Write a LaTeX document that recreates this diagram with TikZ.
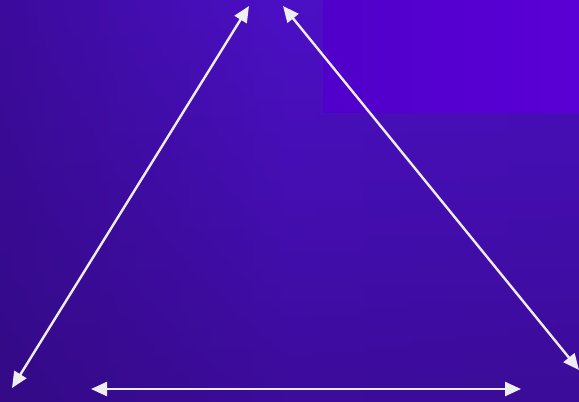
\documentclass[tikz,border=0pt]{standalone}
\usetikzlibrary{arrows.meta,fadings}
\definecolor{bgleft}{HTML}{3C0C9C}
\definecolor{bgmid}{HTML}{4C10C6}
\definecolor{bgright}{HTML}{4A10C0}
\definecolor{bgbot}{HTML}{2C0870}
\definecolor{boxleft}{HTML}{5000CA}
\definecolor{boxright}{HTML}{5A00D6}
\definecolor{arr}{HTML}{EEEEF2}
\tikzfading[name=downfade, top color=transparent!100, middle color=transparent!85, bottom color=transparent!0]
\tikzset{
  dbl/.style={draw=arr, line width=2.4pt, {Triangle[length=16pt,width=14pt]}-{Triangle[length=16pt,width=14pt]}}
}
\begin{document}
\begin{tikzpicture}[x=1pt,y=-1pt]
\useasboundingbox (0,0) rectangle (579,402);
\shade[left color=bgleft, right color=bgright, middle color=bgmid] (0,0) rectangle (579,402);
\fill[bgbot, fill opacity=0.5, path fading=downfade, fit fading=true] (0,0) rectangle (579,402);
\shade[left color=boxleft, right color=boxright] (323,0) rectangle (579,112);
\coordinate (top1) at (249,6);
\coordinate (top2) at (283,6);
\coordinate (bl) at (12,388);
\coordinate (br) at (579,370);
\coordinate (b1) at (91,389);
\coordinate (b2) at (521,389);
\draw[dbl] (top1) -- (bl);
\draw[dbl] (top2) -- (br);
\draw[dbl] (b1) -- (b2);
\end{tikzpicture}
\end{document}
